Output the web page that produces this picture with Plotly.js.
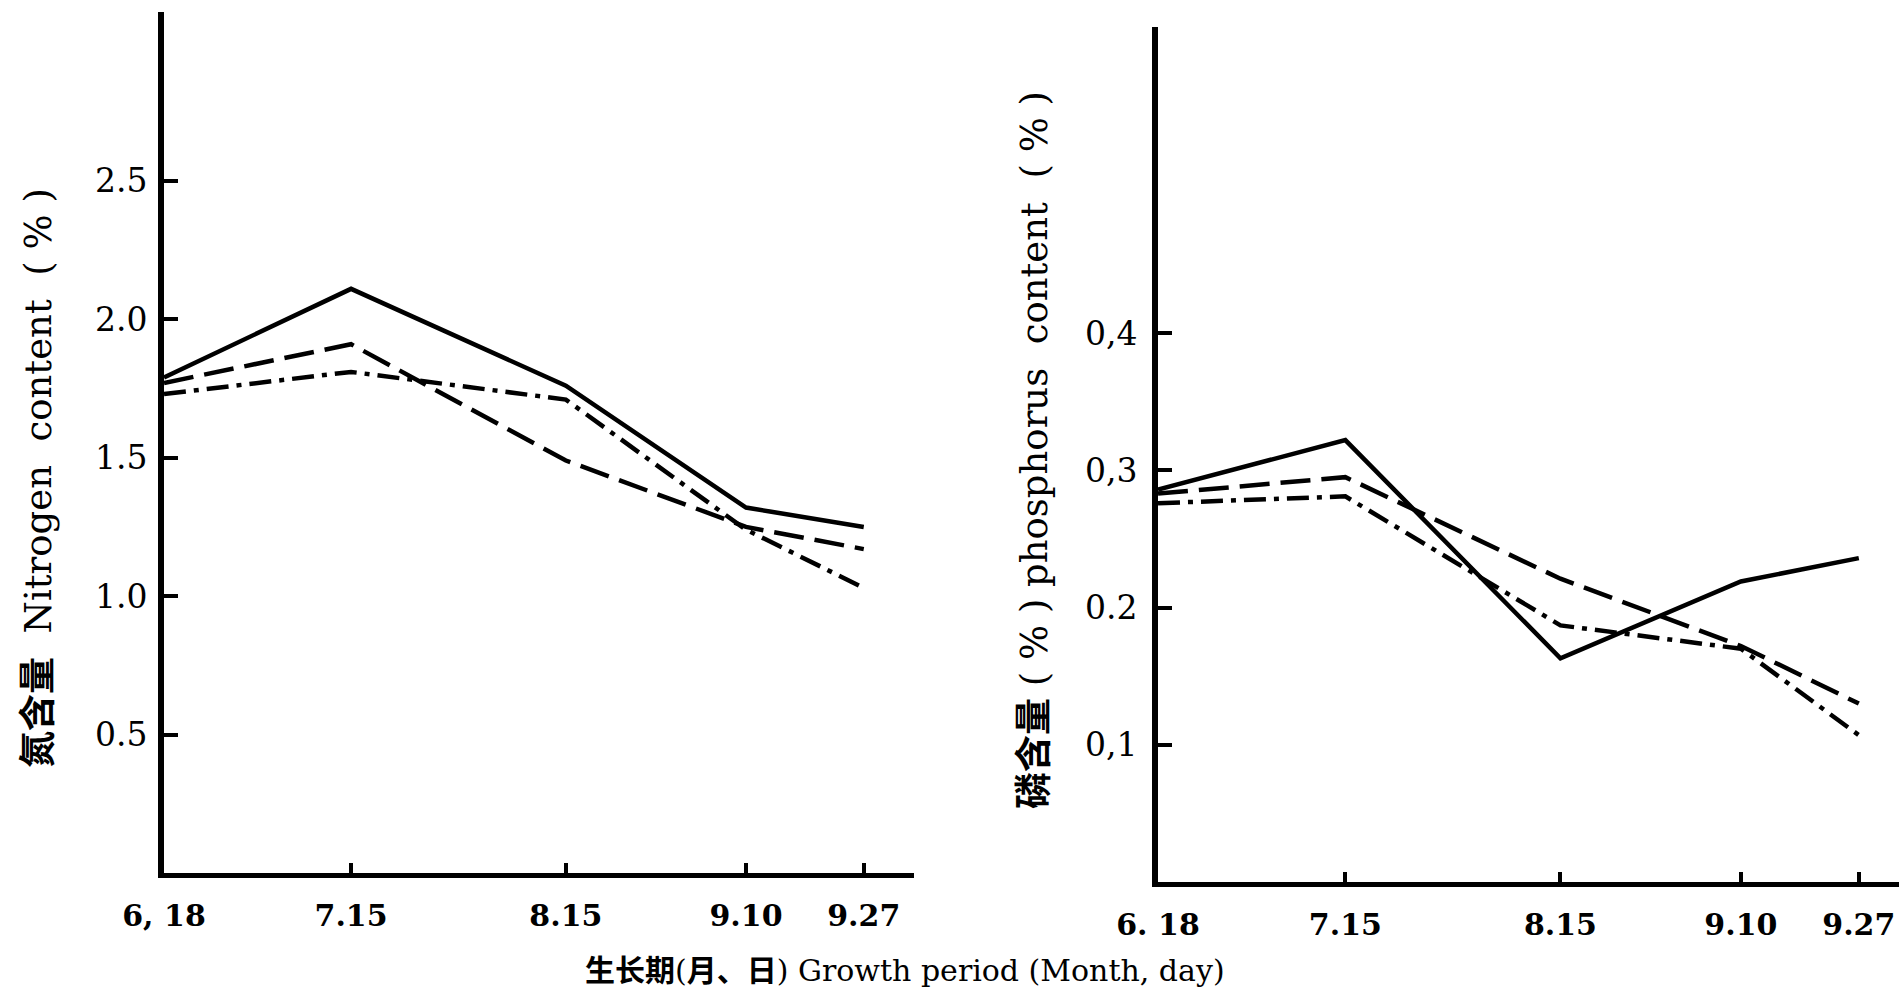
<!DOCTYPE html>
<html>
<head>
<meta charset="utf-8">
<script src="https://cdn.plot.ly/plotly-3.0.1.min.js"></script>
<style>html,body{margin:0;padding:0;background:#fff;}#chart{width:1899px;height:1000px;}</style>
</head>
<body>
<div id="chart"></div>
<script>
// Sampling dates (growth period, month.day)
const dates = ['2000-06-18', '2000-07-15', '2000-08-15', '2000-09-10', '2000-09-27'];
const tickTextN = ['6, 18', '7.15', '8.15', '9.10', '9.27'];
const tickTextP = ['6. 18', '7.15', '8.15', '9.10', '9.27'];

// Nitrogen content (%)
const nSolid   = [1.79, 2.11, 1.76, 1.32, 1.25];
const nDashed  = [1.77, 1.91, 1.49, 1.25, 1.17];
const nDashDot = [1.73, 1.81, 1.71, 1.24, 1.03];
const nTickVals = [0.5, 1.0, 1.5, 2.0, 2.5];
const nTickText = ['0.5', '1.0', '1.5', '2.0', '2.5'];

// Phosphorus content (%)
const pSolid   = [0.286, 0.322, 0.163, 0.219, 0.236];
const pDashed  = [0.283, 0.295, 0.221, 0.172, 0.130];
const pDashDot = [0.276, 0.281, 0.187, 0.170, 0.107];
const pTickVals = [0.1, 0.2, 0.3, 0.4];
const pTickText = ['0,1', '0.2', '0,3', '0,4'];

const SERIF = 'DejaVu Serif, Noto Sans CJK SC, serif';
const DASH = '30px,11px';
const DASHDOT = '22px,8px,5px,8px';
const S = '\u00a0';

function tr(x, y, dash, xa, ya) {
  return {x: x, y: y, xaxis: xa, yaxis: ya, type: 'scatter', mode: 'lines',
          line: {color: '#000', width: 4.5, dash: dash}, showlegend: false, hoverinfo: 'skip'};
}

const data = [
  tr(dates, nSolid, 'solid', 'x', 'y'),
  tr(dates, nDashed, DASH, 'x', 'y'),
  tr(dates, nDashDot, DASHDOT, 'x', 'y'),
  tr(dates, pSolid, 'solid', 'x2', 'y2'),
  tr(dates, pDashed, DASH, 'x2', 'y2'),
  tr(dates, pDashDot, DASHDOT, 'x2', 'y2')
];

const xCommon = {
  type: 'date', showgrid: false, zeroline: false, showline: true, linecolor: '#000', linewidth: 5,
  ticks: 'inside', ticklen: 10, tickwidth: 4, tickcolor: '#000', tickvals: dates,
  tickfont: {family: SERIF, size: 30, color: '#000', weight: 'bold'}, ticklabelstandoff: 12
};
const yCommon = {
  showgrid: false, zeroline: false, showline: true, linecolor: '#000', linewidth: 6,
  ticks: 'inside', ticklen: 14, tickwidth: 4, tickcolor: '#000',
  tickfont: {family: SERIF, size: 33, color: '#000'}, ticklabelstandoff: 4
};

const layout = {
  width: 1899, height: 1000,
  margin: {l: 0, r: 0, t: 0, b: 0},
  paper_bgcolor: '#fff', plot_bgcolor: '#fff',
  xaxis: Object.assign({}, xCommon, {domain: [164/1899, 914/1899], range: ['2000-06-18', '2000-10-04 06:00'],
    ticktext: tickTextN, anchor: 'y'}),
  yaxis: Object.assign({}, yCommon, {domain: [0.127, 0.988], range: [0, 3.11],
    tickvals: nTickVals, ticktext: nTickText, anchor: 'x'}),
  xaxis2: Object.assign({}, xCommon, {domain: [1158/1899, 1], range: ['2000-06-18', '2000-10-02 19:00'],
    ticktext: tickTextP, anchor: 'y2'}),
  yaxis2: Object.assign({}, yCommon, {domain: [0.118, 0.973], range: [0, 0.623],
    tickvals: pTickVals, ticktext: pTickText, anchor: 'x2', ticklabelstandoff: 8}),
  annotations: [
    {text: '<b>氮含量</b>' + S+S + 'Nitrogen' + S+S + 'content' + S+S + '(' + S + '%' + S + ')', textangle: -90,
     xref: 'paper', yref: 'paper', x: 38/1899, y: 1 - 478/1000, xanchor: 'center', yanchor: 'middle',
     showarrow: false, font: {family: SERIF, size: 37, color: '#000'}},
    {text: '<b>磷含量</b>' + S + '(' + S + '%' + S + ')' + S + 'phosphorus' + S+S + 'content' + S+S + '(' + S + '%' + S + ')', textangle: -90,
     xref: 'paper', yref: 'paper', x: 1034/1899, y: 1 - 450/1000, xanchor: 'center', yanchor: 'middle',
     showarrow: false, font: {family: SERIF, size: 37, color: '#000'}},
    {text: '<b>生长期</b>(<b>月、日</b>)' + S + 'Growth' + S + 'period' + S + '(Month,' + S + 'day)',
     xref: 'paper', yref: 'paper', x: 905/1899, y: 1 - 970/1000, xanchor: 'center', yanchor: 'middle',
     showarrow: false, font: {family: SERIF, size: 30, color: '#000'}}
  ]
};

Plotly.newPlot('chart', data, layout, {staticPlot: true, displayModeBar: false});
</script>
</body>
</html>
